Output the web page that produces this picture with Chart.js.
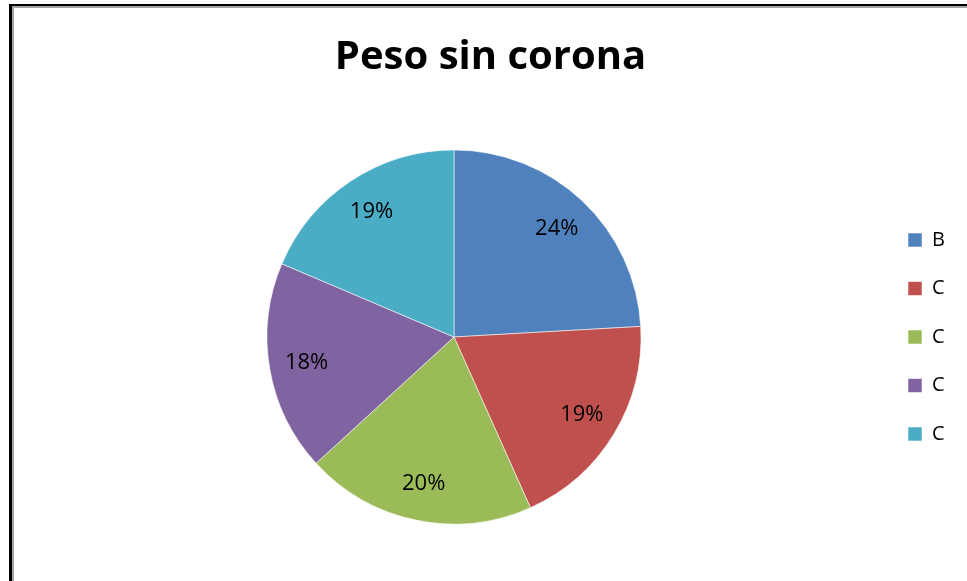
<!DOCTYPE html>
<html>
<head>
<meta charset="utf-8">
<script src="https://cdn.jsdelivr.net/npm/chart.js@4/dist/chart.umd.min.js"></script>
<style>
  html, body { margin: 0; padding: 0; background: #ffffff; overflow: hidden; }
  #wrap { position: relative; width: 967px; height: 581px; }
  #frame {
    position: absolute; left: 9px; top: 4px; width: 1000px; height: 620px;
    border-left: 3px solid #000; border-top: 2px solid #000;
    box-shadow: inset 2px 2px 0 #a6a6a6;
    background: #ffffff;
  }
  canvas { position: absolute; left: 0; top: 0; }
</style>
</head>
<body>
<div id="wrap">
  <div id="frame"></div>
  <canvas id="c" width="967" height="581"></canvas>
</div>
<script>
const chartTitle = 'Peso sin corona';
const categories = ['B', 'C', 'C', 'C', 'C'];
const values = [24.1, 19.2, 19.9, 18.2, 18.6];
const colors = ['#4F81BD', '#C0504D', '#9BBB59', '#8064A2', '#4BACC6'];

const LEGEND_LEFT = 879.5;   // left edge of legend block (box starts at +padding)
const TITLE_CENTER = 490.5;

const pctLabels = {
  id: 'pctLabels',
  afterDatasetsDraw(chart) {
    const ctx = chart.ctx;
    const meta = chart.getDatasetMeta(0);
    const data = chart.data.datasets[0].data;
    const total = data.reduce((a, b) => a + b, 0);
    ctx.save();
    ctx.font = '22px "Open Sans"';
    ctx.fillStyle = '#000000';
    ctx.textAlign = 'center';
    ctx.textBaseline = 'middle';
    meta.data.forEach((arc, i) => {
      const p = arc.getProps(['x', 'y', 'startAngle', 'endAngle', 'outerRadius'], true);
      const mid = (p.startAngle + p.endAngle) / 2;
      const r = p.outerRadius * 0.8;
      const x = p.x + Math.cos(mid) * r;
      const y = p.y + Math.sin(mid) * r;
      ctx.fillText(Math.round(data[i] / total * 100) + '%', x, y);
    });
    ctx.restore();
  }
};

const titleShift = {
  id: 'titleShift',
  afterLayout(chart) {
    const tb = chart.titleBlock;
    if (!tb) return;
    const dx = TITLE_CENTER - (tb.left + tb.right) / 2;
    tb.left += dx;
    tb.right += dx;
  }
};

const chart = new Chart(document.getElementById('c'), {
  type: 'pie',
  data: {
    labels: categories,
    datasets: [{
      data: values,
      backgroundColor: colors,
      borderColor: 'rgba(255,255,255,0.55)',
      borderWidth: 1,
      radius: 187
    }]
  },
  options: {
    responsive: false,
    animation: false,
    devicePixelRatio: 1,
    layout: { padding: { left: 28.5, right: 20, top: 0, bottom: 9 } },
    plugins: {
      title: {
        display: true,
        text: chartTitle,
        color: '#000000',
        font: { family: 'Open Sans', size: 40, weight: 'bold', lineHeight: 1.2 },
        padding: { top: 34, bottom: 20 }
      },
      legend: {
        display: true,
        position: 'right',
        fullSize: false,
        labels: {
          color: '#000000',
          boxWidth: 14,
          boxHeight: 14,
          padding: 28.5,
          font: { family: 'Open Sans', size: 20 }
        }
      },
      tooltip: { enabled: false }
    }
  },
  plugins: [pctLabels, titleShift]
});

// place the legend so the plot area (and pie centre) matches the reference
const lw = chart.legend.width;
chart.options.layout.padding.right = Math.max(0, chart.width - LEGEND_LEFT - lw);
chart.update();
</script>
</body>
</html>
